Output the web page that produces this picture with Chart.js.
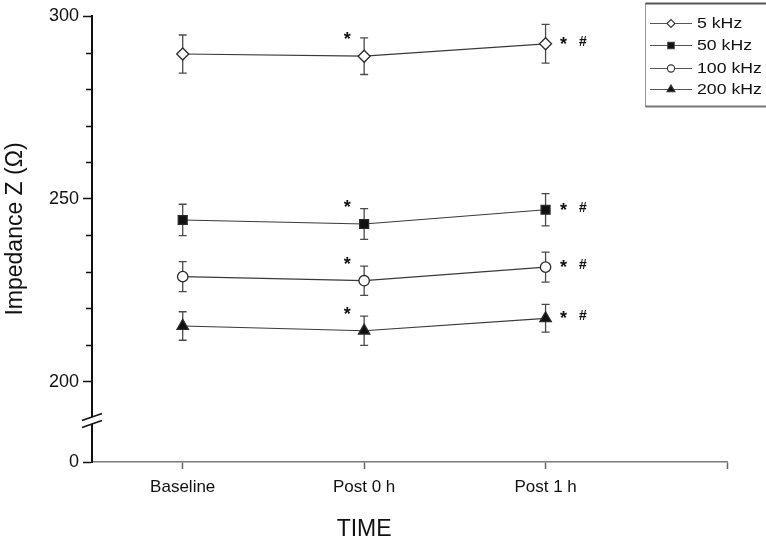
<!DOCTYPE html>
<html>
<head>
<meta charset="utf-8">
<script src="https://cdn.jsdelivr.net/npm/chart.js@4/dist/chart.umd.min.js"></script>
<style>
  html, body { margin: 0; padding: 0; background: #ffffff; }
  #wrap { width: 766px; height: 539px; }
</style>
</head>
<body>
<div id="wrap"><canvas id="c" width="766" height="539"></canvas></div>
<script>
// Time points and impedance series (mean and SD, ohms)
const categories = ['Baseline', 'Post 0 h', 'Post 1 h'];
const seriesNames = ['5 kHz', '50 kHz', '100 kHz', '200 kHz'];

const z5 = [289.6, 289.0, 292.4];
const sd5 = [5.2, 5.0, 5.3];
const z50 = [244.2, 243.1, 247.0];
const sd50 = [4.3, 4.2, 4.4];
const z100 = [228.7, 227.6, 231.3];
const sd100 = [4.1, 4.0, 4.1];
const z200 = [215.2, 213.9, 217.3];
const sd200 = [3.9, 4.0, 3.8];

// significance marks per time point
const sigMarks = ['', '*', '* #'];

// y axis: labelled ticks, minor ticks, and the broken-axis floor shown as "0"
const yMajorTicks = [200, 250, 300];
const yMinorTicks = [210, 220, 230, 240, 260, 270, 280, 290];
const yFloor = 178;
const yBreak = 189.5;
const yTop = 300;

const FONT = '"Liberation Sans", Arial, Helvetica, sans-serif';

const styles = [
  { pointStyle: 'rectRot', radius: 6, fill: '#ffffff', lsRadius: 4 },
  { pointStyle: 'rect', radius: 6.3, fill: '#111111', lsRadius: 4.5 },
  { pointStyle: 'circle', radius: 5.2, fill: '#ffffff', lsRadius: 3.6 },
  { pointStyle: 'triangle', radius: 6.6, fill: '#111111', lsRadius: 4.6 }
];
const means = [z5, z50, z100, z200];
const sds = [sd5, sd50, sd100, sd200];

const datasets = means.map((vals, s) => ({
  label: seriesNames[s],
  data: vals.map((v, i) => ({ x: i + 1, y: v })),
  sd: sds[s],
  borderColor: '#3a3a3a',
  borderWidth: 1.2,
  pointStyle: styles[s].pointStyle,
  pointRadius: styles[s].radius,
  pointBackgroundColor: styles[s].fill,
  pointBorderColor: '#2a2a2a',
  pointBorderWidth: 1.3,
  tension: 0,
  clip: false
}));

const decor = {
  id: 'decor',
  beforeDatasetsDraw(chart) {
    // error bars beneath the markers
    const ctx = chart.ctx;
    const xs = chart.scales.x, ys = chart.scales.y;
    ctx.save();
    ctx.strokeStyle = '#4a4a4a';
    ctx.lineWidth = 1.3;
    chart.data.datasets.forEach(ds => {
      ds.data.forEach((p, i) => {
        const x = xs.getPixelForValue(p.x);
        const yHi = ys.getPixelForValue(p.y + ds.sd[i]);
        const yLo = ys.getPixelForValue(p.y - ds.sd[i]);
        ctx.beginPath();
        ctx.moveTo(x, yHi); ctx.lineTo(x, yLo);
        ctx.moveTo(x - 4, yHi); ctx.lineTo(x + 4, yHi);
        ctx.moveTo(x - 4, yLo); ctx.lineTo(x + 4, yLo);
        ctx.stroke();
      });
    });
    ctx.restore();
  },
  afterDraw(chart) {
    const ctx = chart.ctx;
    const xs = chart.scales.x, ys = chart.scales.y;
    const axisX = chart.chartArea.left;
    ctx.save();

    // minor ticks on the y axis
    ctx.strokeStyle = '#111';
    ctx.lineWidth = 1.5;
    yMinorTicks.forEach(v => {
      const y = Math.round(ys.getPixelForValue(v)) + 0.5;
      ctx.beginPath();
      ctx.moveTo(axisX - 6, y); ctx.lineTo(axisX, y);
      ctx.stroke();
    });

    // axis break
    const yb = ys.getPixelForValue(yBreak);
    ctx.fillStyle = '#ffffff';
    ctx.beginPath();
    ctx.moveTo(axisX - 10, yb + 0.5);
    ctx.lineTo(axisX + 10, yb - 6.5);
    ctx.lineTo(axisX + 10, yb + 0.5);
    ctx.lineTo(axisX - 10, yb + 7.5);
    ctx.closePath();
    ctx.fill();
    ctx.strokeStyle = '#111';
    ctx.lineWidth = 1.5;
    ctx.beginPath();
    ctx.moveTo(axisX - 10, yb + 0.5); ctx.lineTo(axisX + 10, yb - 6.5);
    ctx.moveTo(axisX - 10, yb + 7.5); ctx.lineTo(axisX + 10, yb + 0.5);
    ctx.stroke();

    // significance marks
    ctx.fillStyle = '#111';
    chart.data.datasets.forEach(ds => {
      ds.data.forEach((p, i) => {
        const m = sigMarks[i];
        if (!m) return;
        const x = xs.getPixelForValue(p.x);
        const y = ys.getPixelForValue(p.y);
        const parts = m.split(' ');
        ctx.textAlign = 'center';
        ctx.textBaseline = 'alphabetic';
        if (i === sigMarks.length - 1) {
          ctx.font = 'bold 18px ' + FONT;
          ctx.fillText(parts[0], x + 18, y - 4 + 10);
          if (parts[1]) {
            ctx.font = 'bold italic 14px ' + FONT;
            ctx.fillText(parts[1], x + 37, y - 3 + 5);
          }
        } else {
          ctx.font = 'bold 18px ' + FONT;
          ctx.fillText(parts[0], x - 17, y - 21 + 10);
        }
      });
    });

    // axis titles
    ctx.fillStyle = '#111';
    ctx.font = '23px ' + FONT;
    ctx.textAlign = 'center';
    ctx.textBaseline = 'alphabetic';
    ctx.fillText('TIME', xs.getPixelForValue(2), 536);
    ctx.save();
    ctx.translate(16, (chart.chartArea.top + chart.chartArea.bottom) / 2 - 10);
    ctx.rotate(-Math.PI / 2);
    ctx.textBaseline = 'middle';
    ctx.fillText('Impedance Z (\u03A9)', 0, 0);
    ctx.restore();

    // legend
    const lx = 645.5, ly = 3.5, lw = 130, lh = 103;
    ctx.fillStyle = '#ffffff';
    ctx.fillRect(lx, ly, lw, lh);
    ctx.strokeStyle = '#9a9a9a';
    ctx.lineWidth = 1;
    ctx.strokeRect(lx, ly, lw, lh);
    ctx.strokeStyle = '#555';
    ctx.lineWidth = 2;
    ctx.beginPath(); ctx.moveTo(lx, ly); ctx.lineTo(lx + lw, ly); ctx.stroke();
    ctx.strokeStyle = '#777';
    ctx.beginPath(); ctx.moveTo(lx, ly + lh); ctx.lineTo(lx + lw, ly + lh); ctx.stroke();
    const rowY = [23, 45, 68, 89];
    chart.data.datasets.forEach((ds, s) => {
      const y = rowY[s];
      ctx.strokeStyle = '#555';
      ctx.lineWidth = 1.2;
      ctx.beginPath(); ctx.moveTo(650, y + 0.5); ctx.lineTo(692, y + 0.5); ctx.stroke();
      ctx.fillStyle = styles[s].fill;
      ctx.strokeStyle = '#333';
      ctx.lineWidth = 1.1;
      Chart.helpers.drawPoint(ctx, {
        pointStyle: styles[s].pointStyle,
        radius: styles[s].lsRadius,
        rotation: 0,
        borderWidth: 1.1
      }, 671, y + 0.5);
      ctx.save();
      ctx.translate(697, y);
      ctx.scale(1.18, 1);
      ctx.fillStyle = '#111';
      ctx.font = '15px ' + FONT;
      ctx.textAlign = 'left';
      ctx.textBaseline = 'middle';
      ctx.fillText(ds.label, 0, 1);
      ctx.restore();
    });

    ctx.restore();
  }
};

new Chart(document.getElementById('c'), {
  type: 'line',
  data: { datasets },
  options: {
    responsive: false,
    devicePixelRatio: 1,
    animation: false,
    layout: { padding: { top: 16, right: 39, left: 0, bottom: 0 } },
    plugins: { legend: { display: false }, tooltip: { enabled: false } },
    scales: {
      x: {
        type: 'linear',
        min: 0.5,
        max: 4,
        afterBuildTicks(scale) {
          scale.ticks = [1, 2, 3, 4].map(v => ({ value: v }));
        },
        afterFit(scale) { scale.height = 77; },
        ticks: {
          autoSkip: false,
          maxRotation: 0,
          padding: 8,
          color: '#111',
          font: { family: FONT, size: 17 },
          callback: v => categories[v - 1] || ''
        },
        grid: { drawOnChartArea: false, tickLength: 7, color: '#666', tickWidth: 1.5 },
        border: { color: '#7a7a7a', width: 1.5 }
      },
      y: {
        type: 'linear',
        min: yFloor,
        max: yTop,
        afterBuildTicks(scale) {
          scale.ticks = [yFloor].concat(yMajorTicks).map(v => ({ value: v }));
        },
        afterFit(scale) { scale.width = 92; },
        ticks: {
          autoSkip: false,
          padding: 4,
          color: '#111',
          font: { family: FONT, size: 18 },
          callback: v => (v === yFloor ? '0' : String(v))
        },
        grid: { drawOnChartArea: false, tickLength: 9, color: '#111', tickWidth: 1.5 },
        border: { color: '#111', width: 2 }
      }
    }
  },
  plugins: [decor]
});
</script>
</body>
</html>
